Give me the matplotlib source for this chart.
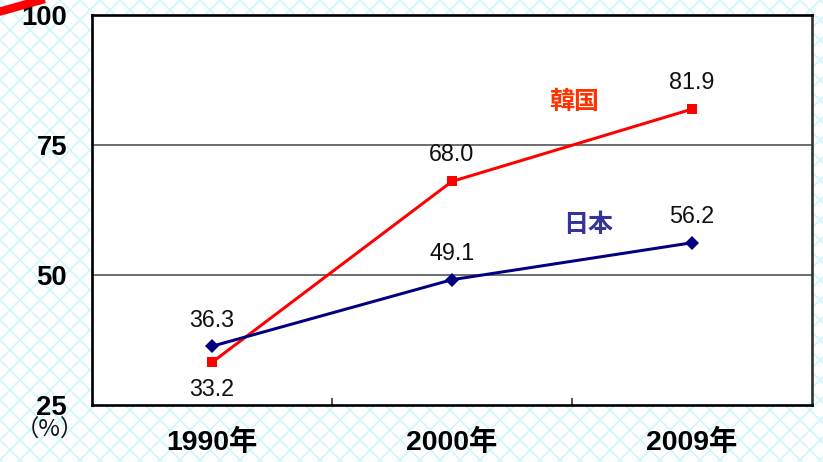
import numpy as np
import matplotlib
matplotlib.use('Agg')
import matplotlib.pyplot as plt
from matplotlib.patches import Rectangle
from matplotlib.lines import Line2D

# Data
years = ['1990年', '2000年', '2009年']
korea = [33.2, 68.0, 81.9]
japan = [36.3, 49.1, 56.2]
y_ticks = [25, 50, 75, 100]

DPI = 120
LATIN = ['Liberation Sans', 'Noto Sans CJK JP']
CJK = ['Noto Sans CJK JP', 'Liberation Sans']

plt.rcParams['hatch.color'] = '#cef7f7'
plt.rcParams['hatch.linewidth'] = 1.0

fig = plt.figure(figsize=(823 / DPI, 462 / DPI), dpi=DPI)

# crosshatched backdrop
bg = Rectangle((0, 0), 1, 1, transform=fig.transFigure, facecolor='white',
               edgecolor='#cef7f7', hatch='xx', linewidth=0, zorder=-10)
fig.patches.append(bg)

# red accent stroke in the upper-left corner
fig.lines.append(Line2D([-0.01, 0.07], [0.97, 1.01], transform=fig.transFigure,
                        color='#ff0000', linewidth=5, solid_capstyle='butt'))

ax = fig.add_axes([92 / 823, 57 / 462, 720 / 823, 390 / 462])
ax.set_facecolor('white')

x = np.arange(len(years))
ax.plot(x, korea, color='#ff0000', linewidth=1.8, marker='s', markersize=6.5,
        markeredgewidth=0, zorder=3)
ax.plot(x, japan, color='#000080', linewidth=1.8, marker='D', markersize=6,
        markeredgewidth=0, zorder=3)

ax.set_xlim(-0.5, len(years) - 0.5)
ax.set_ylim(25, 100)

for yv in [50, 75]:
    ax.axhline(yv, color='#555555', linewidth=1.0, zorder=1)

# value labels
for i, v in enumerate(korea):
    off = -16 if i == 0 else 16
    ax.annotate(f'{v:.1f}', (x[i], v), xytext=(0, off), textcoords='offset points',
                ha='center', va='center', fontsize=14, family=LATIN, color='#111111')
for i, v in enumerate(japan):
    ax.annotate(f'{v:.1f}', (x[i], v), xytext=(0, 15.5), textcoords='offset points',
                ha='center', va='center', fontsize=14, family=LATIN, color='#111111')

ax.text(1.51, 83.3, '韓国', color='#ff3300', fontsize=15, fontweight='bold',
        family=CJK, ha='center', va='center')
ax.text(1.567, 59.6, '日本', color='#333399', fontsize=15, fontweight='bold',
        family=CJK, ha='center', va='center')

ax.set_yticks(y_ticks)
ax.set_yticklabels([str(t) for t in y_ticks], fontsize=16.5, fontweight='bold',
                   family=LATIN)
ax.set_xticks(x)
ax.set_xticklabels(years, fontsize=17, fontweight='bold', family=LATIN)
ax.tick_params(axis='y', length=0, pad=15)
ax.tick_params(axis='x', which='major', length=0, pad=14)
ax.set_xticks([0.5, 1.5], minor=True)
ax.tick_params(axis='x', which='minor', direction='in', length=4, width=1,
               color='#333333')

for sp in ax.spines.values():
    sp.set_linewidth(1.6)
    sp.set_color('black')
ax.spines['right'].set_color('#333333')

fig.text(50 / 823, 1 - 430 / 462, '（%）', fontsize=14, family=CJK,
         ha='center', va='center', color='#111111')

fig.savefig('out.png', dpi=DPI)
